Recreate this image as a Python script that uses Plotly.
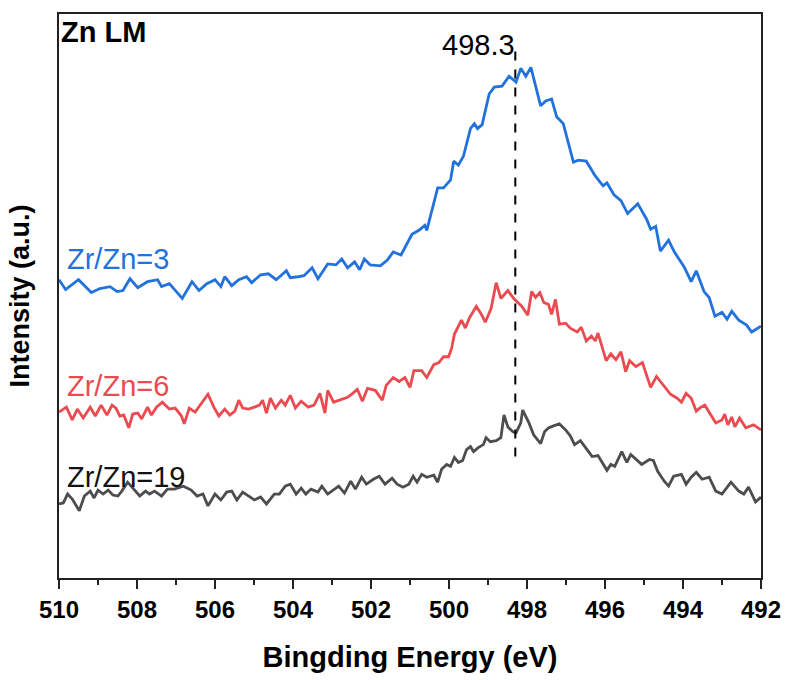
import plotly.graph_objects as go

# Zn LMM Auger spectra for three Zr/Zn ratios (binding energy in eV, intensity in a.u.)
energy_zr3 = [510.00, 509.83, 509.50, 509.17, 508.95, 508.69, 508.51, 508.36, 508.18, 507.98,
              507.73, 507.47, 507.37, 507.17, 506.84, 506.59, 506.41, 506.21, 506.00, 505.85,
              505.75, 505.57, 505.39, 505.19, 505.06, 504.83, 504.63, 504.43, 504.17, 504.07,
              503.87, 503.72, 503.51, 503.36, 503.11, 502.90, 502.75, 502.60, 502.42, 502.29,
              502.17, 502.02, 501.76, 501.58, 501.43, 501.23, 500.95, 500.77, 500.62, 500.57,
              500.29, 500.14, 499.96, 499.88, 499.76, 499.63, 499.45, 499.35, 499.27, 499.15,
              498.97, 498.84, 498.64, 498.46, 498.28, 498.16, 498.03, 497.90, 497.65, 497.52,
              497.37, 497.24, 497.07, 496.81, 496.68, 496.48, 496.25, 496.05, 495.95, 495.77,
              495.59, 495.42, 495.16, 494.93, 494.83, 494.70, 494.58, 494.37, 494.22, 493.97,
              493.79, 493.66, 493.46, 493.33, 493.18, 493.00, 492.87, 492.75, 492.57, 492.37,
              492.24, 492.00]
intensity_zr3 = [302, 292, 302, 289, 293, 295, 290, 291, 303, 294,
                 300, 302, 295, 298, 283, 300, 291, 298, 302, 295,
                 305, 296, 302, 305, 299, 307, 308, 302, 311, 304,
                 305, 306, 314, 303, 318, 317, 323, 314, 320, 312,
                 323, 317, 316, 322, 330, 327, 348, 352, 357, 352,
                 395, 395, 403, 422, 418, 427, 455, 460, 455, 459,
                 490, 497, 498, 508, 502, 516, 508, 517, 478, 483,
                 485, 467, 460, 421, 423, 422, 407, 397, 400, 388,
                 382, 369, 379, 363, 353, 356, 331, 342, 330, 315,
                 300, 311, 290, 284, 265, 269, 262, 270, 261, 256,
                 249, 255]

energy_zr6 = [510.00, 509.91, 509.81, 509.66, 509.53, 509.38, 509.20, 509.07, 508.92, 508.77,
              508.64, 508.54, 508.44, 508.34, 508.21, 508.11, 507.98, 507.88, 507.73, 507.63,
              507.50, 507.35, 507.17, 507.02, 506.86, 506.79, 506.66, 506.51, 506.33, 506.18,
              506.03, 505.90, 505.75, 505.62, 505.49, 505.39, 505.29, 505.14, 504.99, 504.86,
              504.78, 504.68, 504.58, 504.45, 504.30, 504.20, 504.07, 503.94, 503.79, 503.61,
              503.46, 503.31, 503.18, 503.11, 502.96, 502.80, 502.60, 502.47, 502.35, 502.22,
              502.09, 501.89, 501.71, 501.61, 501.43, 501.28, 501.13, 501.00, 500.90, 500.70,
              500.57, 500.39, 500.26, 500.14, 500.01, 499.93, 499.86, 499.68, 499.58, 499.48,
              499.30, 499.17, 499.07, 498.92, 498.79, 498.67, 498.49, 498.34, 498.13, 497.98,
              497.88, 497.78, 497.67, 497.57, 497.45, 497.37, 497.27, 497.17, 497.01, 496.89,
              496.71, 496.61, 496.48, 496.35, 496.25, 496.18, 495.97, 495.85, 495.72, 495.59,
              495.47, 495.37, 495.21, 495.04, 494.93, 494.83, 494.68, 494.50, 494.32, 494.15,
              494.04, 493.92, 493.79, 493.66, 493.54, 493.44, 493.28, 493.16, 493.00, 492.93,
              492.85, 492.75, 492.67, 492.55, 492.39, 492.19, 492.00]
intensity_zr6 = [168, 170, 173, 160, 171, 162, 173, 164, 175, 165,
                 175, 172, 164, 165, 152, 166, 167, 161, 173, 165,
                 173, 178, 171, 172, 164, 156, 172, 168, 178, 186,
                 173, 164, 171, 165, 169, 180, 172, 171, 173, 175,
                 180, 167, 182, 172, 180, 175, 185, 172, 179, 173,
                 175, 187, 167, 190, 178, 180, 183, 187, 191, 179,
                 192, 190, 180, 195, 203, 199, 203, 193, 210, 210,
                 203, 216, 218, 224, 224, 233, 247, 261, 253, 263,
                 275, 267, 259, 273, 299, 283, 291, 283, 275, 266,
                 290, 284, 289, 279, 277, 267, 282, 257, 258, 253,
                 249, 254, 240, 245, 240, 248, 220, 227, 221, 229,
                 209, 220, 214, 218, 204, 193, 204, 195, 186, 182,
                 178, 187, 182, 169, 173, 175, 165, 157, 160, 166,
                 155, 163, 153, 162, 152, 155, 150]

energy_zr19 = [510.00, 509.89, 509.78, 509.66, 509.48, 509.35, 509.20, 509.10, 509.00, 508.87,
               508.74, 508.62, 508.49, 508.39, 508.24, 508.11, 507.93, 507.78, 507.68, 507.55,
               507.37, 507.22, 507.04, 506.81, 506.61, 506.46, 506.31, 506.18, 506.00, 505.85,
               505.70, 505.57, 505.44, 505.29, 505.14, 504.99, 504.83, 504.68, 504.48, 504.35,
               504.20, 504.07, 503.92, 503.79, 503.67, 503.54, 503.36, 503.26, 503.11, 502.98,
               502.83, 502.68, 502.52, 502.40, 502.24, 502.12, 501.94, 501.79, 501.64, 501.46,
               501.33, 501.18, 501.03, 500.92, 500.82, 500.70, 500.57, 500.39, 500.29, 500.19,
               500.06, 499.96, 499.86, 499.76, 499.65, 499.55, 499.45, 499.37, 499.25, 499.12,
               499.05, 498.94, 498.79, 498.67, 498.59, 498.49, 498.36, 498.28, 498.16, 498.11,
               497.95, 497.83, 497.65, 497.55, 497.45, 497.32, 497.17, 497.01, 496.89, 496.78,
               496.63, 496.46, 496.33, 496.18, 495.95, 495.85, 495.75, 495.57, 495.44, 495.34,
               495.19, 495.06, 494.86, 494.76, 494.65, 494.48, 494.37, 494.24, 494.04, 493.92,
               493.79, 493.66, 493.51, 493.33, 493.16, 493.00, 492.77, 492.57, 492.44, 492.32,
               492.14, 492.00]
intensity_zr19 = [75, 76, 85, 80, 68, 83, 88, 81, 89, 85,
                  89, 84, 83, 88, 97, 91, 83, 88, 85, 88,
                  83, 90, 90, 93, 89, 83, 85, 73, 85, 79,
                  87, 88, 79, 87, 83, 79, 82, 75, 85, 85,
                  93, 95, 85, 91, 85, 90, 87, 93, 85, 89,
                  93, 86, 98, 90, 102, 95, 100, 103, 95, 101,
                  95, 92, 95, 103, 97, 105, 102, 104, 97, 110,
                  115, 113, 122, 117, 119, 130, 133, 128, 132, 135,
                  142, 138, 139, 142, 165, 153, 148, 147, 157, 170,
                  157, 145, 136, 148, 152, 154, 156, 150, 144, 135,
                  139, 130, 123, 124, 109, 115, 113, 128, 117, 125,
                  120, 115, 120, 119, 108, 98, 93, 103, 105, 95,
                  102, 107, 100, 102, 88, 85, 97, 88, 85, 92,
                  77, 82]

series_names = ["Zr/Zn=3", "Zr/Zn=6", "Zr/Zn=19"]
series_colors = ["#2272dc", "#ea4a50", "#4d4d4d"]
label_colors = ["#2272dc", "#ea4a50", "#111111"]
label_heights = [323, 194, 102]

peak_position = 498.3
peak_line_span = [123, 540]

x_range = [510, 492]
y_range = [0, 571]

FONT = "Liberation Sans, Arial, Helvetica, sans-serif"

fig = go.Figure()

for name, xs, ys, color in zip(series_names,
                               [energy_zr3, energy_zr6, energy_zr19],
                               [intensity_zr3, intensity_zr6, intensity_zr19],
                               series_colors):
    fig.add_trace(go.Scatter(x=xs, y=ys, mode="lines", name=name,
                             line=dict(color=color, width=2.8), showlegend=False))

# dashed marker at the Zn LMM peak position
fig.add_trace(go.Scatter(x=[peak_position, peak_position], y=peak_line_span, mode="lines",
                         line=dict(color="black", width=2, dash="dash"), showlegend=False))

fig.add_annotation(x=peak_position, y=peak_line_span[1], xref="x", yref="y",
                   text=f"{peak_position}", showarrow=False, xanchor="right", yanchor="middle",
                   xshift=2, font=dict(family=FONT, size=29, color="black"))

for name, color, h in zip(series_names, label_colors, label_heights):
    fig.add_annotation(x=509.85, y=h, xref="x", yref="y", text=name, showarrow=False,
                       xanchor="left", yanchor="middle",
                       font=dict(family=FONT, size=29, color=color))

fig.add_annotation(x=0.0, y=1.0, xref="paper", yref="paper", text="<b>Zn LM</b>",
                   showarrow=False, xanchor="left", yanchor="top",
                   font=dict(family=FONT, size=29, color="black"))

fig.update_layout(
    width=793, height=680,
    margin=dict(l=59, r=25, t=14, b=95),
    paper_bgcolor="white", plot_bgcolor="white",
    xaxis=dict(range=x_range, dtick=2, tick0=492, ticks="outside", ticklen=9, tickwidth=2,
               tickcolor="#222", showline=True, linecolor="#222", linewidth=2, mirror=True,
               showgrid=False, zeroline=False,
               minor=dict(dtick=1, ticks="outside", ticklen=5, tickwidth=2, tickcolor="#222"),
               tickfont=dict(family=FONT, size=24, color="black", weight="bold"),
               title=dict(text="<b>Bingding Energy (eV)</b>", standoff=25,
                          font=dict(family=FONT, size=29, color="black"))),
    yaxis=dict(range=y_range, showticklabels=False, ticks="", showline=True, linecolor="#222",
               linewidth=2, mirror=True, showgrid=False, zeroline=False,
               title=dict(text="<b>Intensity (a.u.)</b>", standoff=20,
                          font=dict(family=FONT, size=27, color="black"))),
)

fig.write_html("out.html")
